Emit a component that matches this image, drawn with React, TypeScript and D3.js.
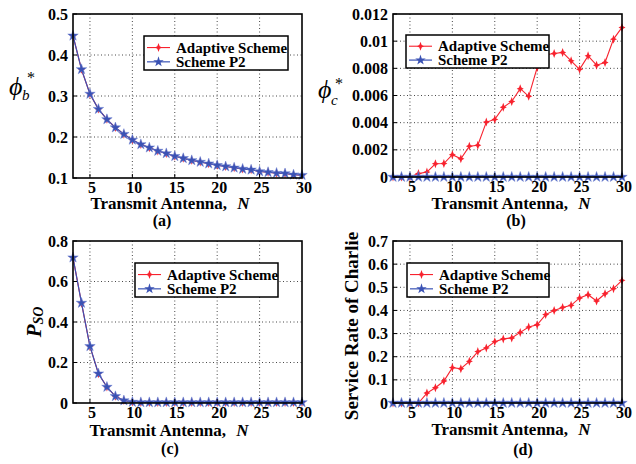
import React from "react";
import * as d3 from "d3";

const N_VALUES = [3, 4, 5, 6, 7, 8, 9, 10, 11, 12, 13, 14, 15, 16, 17, 18, 19, 20, 21, 22, 23, 24, 25, 26, 27, 28, 29, 30];
const X_TICKS = [5, 10, 15, 20, 25, 30];

const PHI_B_ADAPTIVE = [0.447, 0.365, 0.305, 0.268, 0.243, 0.223, 0.207, 0.193, 0.182, 0.174, 0.166, 0.16, 0.153, 0.148, 0.143, 0.139, 0.135, 0.131, 0.128, 0.125, 0.122, 0.12, 0.116, 0.114, 0.112, 0.111, 0.108, 0.107];
const PHI_B_P2 = [0.447, 0.365, 0.305, 0.268, 0.243, 0.223, 0.207, 0.193, 0.182, 0.174, 0.166, 0.16, 0.153, 0.148, 0.143, 0.139, 0.135, 0.131, 0.128, 0.125, 0.122, 0.12, 0.116, 0.114, 0.112, 0.111, 0.108, 0.107];

const PHI_C_ADAPTIVE = [0, 0, 0, 0.00025, 0.00036, 0.00097, 0.00099, 0.00164, 0.00134, 0.00227, 0.00234, 0.00404, 0.00424, 0.00513, 0.00556, 0.0065, 0.00594, 0.00806, 0.009, 0.00909, 0.00917, 0.00855, 0.00793, 0.00892, 0.00823, 0.00843, 0.01015, 0.01101];
const PHI_C_P2 = [0, 0, 0, 0, 0, 0, 0, 0, 0, 0, 0, 0, 0, 0, 0, 0, 0, 0, 0, 0, 0, 0, 0, 0, 0, 0, 0, 0];

const PSO_ADAPTIVE = [0.718, 0.494, 0.28, 0.145, 0.079, 0.033, 0.012, 0.005, 0.003, 0.003, 0.003, 0.003, 0.003, 0.003, 0.003, 0.003, 0.003, 0.003, 0.003, 0.003, 0.003, 0.003, 0.003, 0.003, 0.003, 0.003, 0.003, 0.003];
const PSO_P2 = [0.718, 0.494, 0.28, 0.145, 0.079, 0.033, 0.012, 0.005, 0.003, 0.003, 0.003, 0.003, 0.003, 0.003, 0.003, 0.003, 0.003, 0.003, 0.003, 0.003, 0.003, 0.003, 0.003, 0.003, 0.003, 0.003, 0.003, 0.003];

const RATE_ADAPTIVE = [0, 0, 0, 0, 0.043, 0.066, 0.095, 0.153, 0.148, 0.18, 0.222, 0.238, 0.265, 0.277, 0.281, 0.305, 0.328, 0.338, 0.382, 0.4, 0.413, 0.422, 0.454, 0.468, 0.441, 0.472, 0.494, 0.53];
const RATE_P2 = [0, 0, 0, 0, 0, 0, 0, 0, 0, 0, 0, 0, 0, 0, 0, 0, 0, 0, 0, 0, 0, 0, 0, 0, 0, 0, 0, 0];

const Y_TICKS_A = [0.1, 0.2, 0.3, 0.4, 0.5];
const Y_TICKS_B = [0, 0.002, 0.004, 0.006, 0.008, 0.01, 0.012];
const Y_TICKS_C = [0, 0.2, 0.4, 0.6, 0.8];
const Y_TICKS_D = [0, 0.1, 0.2, 0.3, 0.4, 0.5, 0.6, 0.7];

const LEGEND_LABELS = ["Adaptive Scheme", "Scheme P2"];
const X_TITLE = "Transmit Antenna,";
const CAPTIONS = ["(a)", "(b)", "(c)", "(d)"];

const RED = "#f8222e";
const BLUE = "#3a52b4";
const SERIF = "'Liberation Serif', 'Times New Roman', 'DejaVu Serif', serif";

const redMarkerPath = "M0,-4.5 L1.2,-1.2 L3.5,0 L1.2,1.2 L0,4.5 L-1.2,1.2 L-3.5,0 L-1.2,-1.2 Z";
const blueMarker = d3.symbol().type(d3.symbolStar).size(34)();

type PanelProps = {
  left: number; top: number; right: number; bottom: number;
  yDomain: [number, number]; yTicks: number[];
  adaptive: number[]; p2: number[];
  legend: { x: number; y: number; w: number; h: number };
  titleX: number; titleY: number; capX: number; capY: number; caption: string;
  yLabel: React.ReactNode;
};

function Panel(p: PanelProps) {
  const x = d3.scaleLinear().domain([3, 30]).range([p.left, p.right]);
  const y = d3.scaleLinear().domain(p.yDomain).range([p.bottom, p.top]);
  const line = d3.line<number>().x((_, i) => x(N_VALUES[i])).y((d) => y(d));
  const L = p.legend;
  const e1 = L.y + L.h * 0.34;
  const e2 = L.y + L.h * 0.76;
  return (
    <g>
      {X_TICKS.filter((t) => t < 30).map((t) => (
        <line key={"gx" + t} x1={x(t)} x2={x(t)} y1={p.top} y2={p.bottom} stroke="#333" strokeWidth={0.9} strokeDasharray="1,2.5" />
      ))}
      {p.yTicks.slice(1, -1).map((t) => (
        <line key={"gy" + t} x1={p.left} x2={p.right} y1={y(t)} y2={y(t)} stroke="#333" strokeWidth={0.9} strokeDasharray="1,2.5" />
      ))}
      <path d={line(p.adaptive) || ""} fill="none" stroke={RED} strokeWidth={1.1} />
      {p.adaptive.map((v, i) => (
        <path key={"r" + i} d={redMarkerPath} transform={`translate(${x(N_VALUES[i])},${y(v)})`} fill={RED} />
      ))}
      <path d={line(p.p2) || ""} fill="none" stroke={BLUE} strokeWidth={1.2} />
      {p.p2.map((v, i) => (
        <path key={"b" + i} d={blueMarker || ""} transform={`translate(${x(N_VALUES[i])},${y(v)})`} fill={BLUE} stroke="#6a7fd0" strokeWidth={0.5} />
      ))}
      <rect x={p.left} y={p.top} width={p.right - p.left} height={p.bottom - p.top} fill="none" stroke="#000" strokeWidth={1.6} />
      {X_TICKS.map((t) => (
        <g key={"tx" + t}>
          <line x1={x(t)} x2={x(t)} y1={p.bottom} y2={p.bottom - 4} stroke="#000" strokeWidth={1} />
          <text x={x(t) + 2} y={p.bottom + 15} textAnchor="middle" fontFamily={SERIF} fontWeight="bold" fontSize={16}>{t}</text>
        </g>
      ))}
      {p.yTicks.map((t) => (
        <g key={"ty" + t}>
          <line x1={p.left} x2={p.left + 4} y1={y(t)} y2={y(t)} stroke="#000" strokeWidth={1} />
          <text x={p.left - 5} y={y(t) + 5.5} textAnchor="end" fontFamily={SERIF} fontWeight="bold" fontSize={16}>{String(t)}</text>
        </g>
      ))}
      <rect x={L.x} y={L.y} width={L.w} height={L.h} fill="#fff" stroke="#000" strokeWidth={1.5} />
      <line x1={L.x + 3} x2={L.x + 26} y1={e1} y2={e1} stroke={RED} strokeWidth={1.1} />
      <path d={redMarkerPath} transform={`translate(${L.x + 14.5},${e1})`} fill={RED} />
      <text x={L.x + 32} y={e1 + 5} fontFamily={SERIF} fontWeight="bold" fontSize={15}>{LEGEND_LABELS[0]}</text>
      <line x1={L.x + 3} x2={L.x + 26} y1={e2} y2={e2} stroke={BLUE} strokeWidth={1.2} />
      <path d={blueMarker || ""} transform={`translate(${L.x + 14.5},${e2})`} fill={BLUE} />
      <text x={L.x + 32} y={e2 + 5} fontFamily={SERIF} fontWeight="bold" fontSize={15}>{LEGEND_LABELS[1]}</text>
      <text x={p.titleX} y={p.titleY} textAnchor="middle" fontFamily={SERIF} fontWeight="bold" fontSize={17}>
        {X_TITLE}{"  "}<tspan fontStyle="italic" dx={6}>N</tspan>
      </text>
      <text x={p.capX} y={p.capY} textAnchor="middle" fontFamily={SERIF} fontWeight="bold" fontSize={16}>{p.caption}</text>
      {p.yLabel}
    </g>
  );
}

export default function App() {
  return (
    <svg width={636} height={464} style={{ position: "absolute", left: 0, top: 0, background: "#fff" }}>
      <rect width={636} height={464} fill="#fff" />
      <Panel left={73} top={14} right={302} bottom={178} yDomain={[0.1, 0.5]} yTicks={Y_TICKS_A}
        adaptive={PHI_B_ADAPTIVE} p2={PHI_B_P2}
        legend={{ x: 144, y: 36, w: 144, h: 34 }}
        titleX={170} titleY={209} capX={162} capY={226} caption={CAPTIONS[0]}
        yLabel={
          <g fontFamily={SERIF}>
            <text x={9} y={95} fontSize={26} fontStyle="italic">ϕ</text>
            <text x={22} y={100} fontSize={15} fontStyle="italic">b</text>
            <text x={27} y={83} fontSize={16}>*</text>
          </g>
        } />
      <Panel left={393} top={14} right={622} bottom={177} yDomain={[0, 0.012]} yTicks={Y_TICKS_B}
        adaptive={PHI_C_ADAPTIVE} p2={PHI_C_P2}
        legend={{ x: 406, y: 35, w: 143, h: 33 }}
        titleX={511} titleY={209} capX={516} capY={226} caption={CAPTIONS[1]}
        yLabel={
          <g fontFamily={SERIF}>
            <text x={318} y={98} fontSize={26} fontStyle="italic">ϕ</text>
            <text x={331} y={105} fontSize={15} fontStyle="italic">c</text>
            <text x={335} y={89} fontSize={16}>*</text>
          </g>
        } />
      <Panel left={73} top={241} right={302} bottom={403} yDomain={[0, 0.8]} yTicks={Y_TICKS_C}
        adaptive={PSO_ADAPTIVE} p2={PSO_P2}
        legend={{ x: 135, y: 263, w: 143, h: 34 }}
        titleX={169} titleY={436} capX={170} capY={454} caption={CAPTIONS[2]}
        yLabel={
          <text transform="translate(41,322) rotate(-90)" textAnchor="middle" fontFamily={SERIF} fontWeight="bold" fontStyle="italic">
            <tspan fontSize={21}>P</tspan><tspan fontSize={14} dy={2}>SO</tspan>
          </text>
        } />
      <Panel left={393} top={241} right={622} bottom={403} yDomain={[0, 0.7]} yTicks={Y_TICKS_D}
        adaptive={RATE_ADAPTIVE} p2={RATE_P2}
        legend={{ x: 407, y: 263, w: 142, h: 34 }}
        titleX={511} titleY={435} capX={523} capY={455} caption={CAPTIONS[3]}
        yLabel={
          <text transform="translate(358,326) rotate(-90)" textAnchor="middle" fontFamily={SERIF} fontWeight="bold" fontSize={19}>
            Service Rate of Charlie
          </text>
        } />
    </svg>
  );
}
